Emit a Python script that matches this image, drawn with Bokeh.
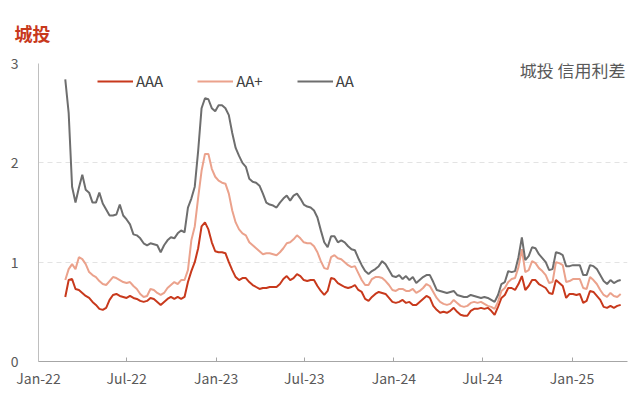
import pandas as pd
from bokeh.plotting import figure
from bokeh.models import (Label, Legend, LegendItem, FixedTicker, DatetimeTickFormatter,
                          Range1d, ColumnDataSource)
from bokeh.embed import file_html
from bokeh.resources import INLINE

# ---------------- data ----------------
dates = pd.date_range("2022-02-25", periods=164, freq="7D")

aaa = [0.65, 0.82, 0.83, 0.73, 0.72, 0.69, 0.66, 0.64, 0.60, 0.57,
       0.53, 0.52, 0.54, 0.62, 0.67, 0.68, 0.66, 0.65, 0.64, 0.66,
       0.64, 0.63, 0.61, 0.60, 0.61, 0.64, 0.63, 0.60, 0.57, 0.60,
       0.63, 0.65, 0.63, 0.65, 0.63, 0.65, 0.80, 0.91, 1.00, 1.14,
       1.36, 1.40, 1.33, 1.20, 1.11, 1.10, 1.10, 1.09, 1.00, 0.92,
       0.85, 0.82, 0.84, 0.84, 0.80, 0.77, 0.75, 0.73, 0.74, 0.74,
       0.75, 0.75, 0.75, 0.78, 0.83, 0.86, 0.82, 0.84, 0.88, 0.86,
       0.82, 0.81, 0.82, 0.82, 0.76, 0.71, 0.67, 0.71, 0.84, 0.83,
       0.79, 0.77, 0.75, 0.74, 0.75, 0.77, 0.72, 0.70, 0.63, 0.61,
       0.65, 0.68, 0.70, 0.69, 0.68, 0.64, 0.60, 0.59, 0.60, 0.62,
       0.59, 0.60, 0.57, 0.57, 0.60, 0.63, 0.66, 0.64, 0.56, 0.52,
       0.49, 0.50, 0.49, 0.51, 0.54, 0.50, 0.47, 0.46, 0.46, 0.51,
       0.53, 0.53, 0.54, 0.53, 0.54, 0.51, 0.47, 0.55, 0.64, 0.67,
       0.74, 0.74, 0.72, 0.78, 0.86, 0.72, 0.76, 0.82, 0.82, 0.78,
       0.76, 0.74, 0.69, 0.68, 0.82, 0.79, 0.76, 0.64, 0.68, 0.68,
       0.67, 0.68, 0.59, 0.61, 0.71, 0.70, 0.66, 0.62, 0.55, 0.54,
       0.56, 0.54, 0.56, 0.57]

aa_plus = [0.82, 0.93, 0.98, 0.93, 1.05, 1.03, 0.98, 0.90, 0.87, 0.85,
           0.81, 0.78, 0.77, 0.81, 0.85, 0.84, 0.82, 0.80, 0.79, 0.80,
           0.76, 0.73, 0.68, 0.65, 0.66, 0.73, 0.72, 0.69, 0.67, 0.69,
           0.74, 0.77, 0.80, 0.78, 0.82, 0.82, 0.92, 1.22, 1.36, 1.65,
           1.92, 2.09, 2.09, 1.94, 1.86, 1.82, 1.80, 1.79, 1.69, 1.52,
           1.40, 1.33, 1.29, 1.27, 1.20, 1.17, 1.14, 1.11, 1.08, 1.09,
           1.09, 1.08, 1.07, 1.10, 1.14, 1.19, 1.20, 1.23, 1.27, 1.24,
           1.20, 1.19, 1.19, 1.16, 1.10, 1.01, 0.94, 0.93, 1.05, 1.07,
           1.04, 1.03, 1.00, 0.97, 0.95, 0.96, 0.89, 0.82, 0.77, 0.77,
           0.83, 0.85, 0.85, 0.84, 0.81, 0.77, 0.72, 0.71, 0.73, 0.73,
           0.71, 0.71, 0.73, 0.69, 0.71, 0.74, 0.78, 0.76, 0.70, 0.64,
           0.60, 0.58, 0.57, 0.58, 0.62, 0.59, 0.56, 0.55, 0.56, 0.59,
           0.60, 0.59, 0.60, 0.58, 0.56, 0.55, 0.53, 0.60, 0.71, 0.74,
           0.80, 0.83, 0.84, 0.95, 1.13, 0.90, 0.92, 1.01, 0.99, 0.94,
           0.91, 0.87, 0.79, 0.80, 1.00, 0.99, 0.97, 0.80, 0.81, 0.83,
           0.83, 0.83, 0.74, 0.73, 0.85, 0.82, 0.78, 0.72, 0.67, 0.65,
           0.69, 0.66, 0.65, 0.68]

aa = [2.84, 2.50, 1.76, 1.60, 1.75, 1.88, 1.73, 1.70, 1.60, 1.60,
      1.70, 1.59, 1.53, 1.47, 1.47, 1.48, 1.58, 1.47, 1.43, 1.38,
      1.28, 1.27, 1.24, 1.19, 1.17, 1.19, 1.18, 1.17, 1.10, 1.17,
      1.22, 1.25, 1.24, 1.29, 1.32, 1.30, 1.55, 1.64, 1.76, 2.12,
      2.55, 2.65, 2.64, 2.55, 2.52, 2.58, 2.58, 2.55, 2.48, 2.30,
      2.15, 2.07, 2.00, 1.96, 1.84, 1.81, 1.80, 1.77, 1.69, 1.60,
      1.58, 1.57, 1.55, 1.60, 1.64, 1.67, 1.62, 1.67, 1.69, 1.64,
      1.58, 1.56, 1.55, 1.52, 1.45, 1.32, 1.20, 1.15, 1.26, 1.26,
      1.20, 1.22, 1.20, 1.16, 1.13, 1.12, 1.04, 0.97, 0.91, 0.88,
      0.91, 0.93, 0.96, 1.01, 0.98, 0.92, 0.86, 0.85, 0.87, 0.83,
      0.86, 0.82, 0.85, 0.79, 0.82, 0.85, 0.87, 0.87, 0.80, 0.72,
      0.71, 0.70, 0.69, 0.70, 0.71, 0.67, 0.66, 0.65, 0.65, 0.67,
      0.66, 0.65, 0.64, 0.65, 0.64, 0.62, 0.60, 0.67, 0.78, 0.80,
      0.91, 0.90, 0.91, 1.05, 1.25, 1.02, 1.06, 1.15, 1.14, 1.08,
      1.04, 1.00, 0.92, 0.93, 1.10, 1.09, 1.07, 0.96, 0.96, 0.97,
      0.97, 0.97, 0.87, 0.87, 0.97, 0.96, 0.93, 0.87, 0.81, 0.78,
      0.82, 0.79, 0.81, 0.82]

series_names = ["AAA", "AA+", "AA"]
series_colors = ["#C8391C", "#EBA28C", "#6E6E6E"]

tick_dates = ["2022-01-01", "2022-07-01", "2023-01-01", "2023-07-01",
              "2024-01-01", "2024-07-01", "2025-01-01"]
y_ticks = [0, 1, 2, 3]

title_text = "城投"
note_text = "城投 信用利差"

# ---------------- figure ----------------
FONT = "Noto Sans CJK SC"

p = figure(width=632, height=390, output_backend="svg", toolbar_location=None,
           x_axis_type="datetime", title=title_text,
           x_range=Range1d(pd.Timestamp("2022-01-01"), pd.Timestamp("2025-04-25")),
           y_range=Range1d(0, 3),
           min_border_left=38, min_border_right=5, min_border_top=63, min_border_bottom=26)
p.outline_line_color = None
p.background_fill_color = "white"
p.border_fill_color = "white"

p.title.text_font = FONT
p.title.text_font_size = "18px"
p.title.text_font_style = "bold"
p.title.text_color = "#C8391C"
p.title.align = "left"
p.title.offset = -24
p.title.standoff = 35

src = ColumnDataSource(dict(date=dates, AAA=aaa, AAp=aa_plus, AA=aa))
r_aaa = p.line("date", "AAA", source=src, line_color=series_colors[0], line_width=2)
r_aap = p.line("date", "AAp", source=src, line_color=series_colors[1], line_width=2)
r_aa = p.line("date", "AA", source=src, line_color=series_colors[2], line_width=2)

# axes
tick_ms = [pd.Timestamp(d).value / 1e6 for d in tick_dates]
p.xaxis.ticker = FixedTicker(ticks=tick_ms)
p.xaxis.formatter = DatetimeTickFormatter(days="%b-%y", months="%b-%y", years="%b-%y")
p.xaxis.axis_line_color = "#A6A6A6"
p.xaxis.major_tick_line_color = "#A6A6A6"
p.xaxis.major_tick_in = 4
p.xaxis.major_tick_out = 0
p.xaxis.minor_tick_line_color = None
p.xaxis.major_label_standoff = 6

p.yaxis.ticker = FixedTicker(ticks=y_ticks)
p.yaxis.axis_line_color = "#BFBFBF"
p.yaxis.major_tick_line_color = None
p.yaxis.minor_tick_line_color = None
p.yaxis.major_label_standoff = 14

for ax in (p.xaxis, p.yaxis):
    ax.major_label_text_font = FONT
    ax.major_label_text_font_size = "14px"
    ax.major_label_text_color = "#595959"

p.xgrid.grid_line_color = None
p.ygrid.grid_line_color = "#E3E3E3"
p.ygrid.grid_line_dash = "5 4"
p.ygrid.grid_line_width = 1

# legend
legend = Legend(items=[LegendItem(label=series_names[0], renderers=[r_aaa]),
                       LegendItem(label=series_names[1], renderers=[r_aap]),
                       LegendItem(label=series_names[2], renderers=[r_aa])],
                orientation="horizontal", location=(59, 270),
                glyph_width=36, glyph_height=16, label_height=16,
                label_standoff=3, spacing=34, padding=0, margin=0,
                border_line_color=None, background_fill_alpha=0,
                label_text_font=FONT, label_text_font_size="15px",
                label_text_color="#404040")
p.add_layout(legend)

# note inside the plot area (top right)
p.add_layout(Label(x=587, y=292, x_units="screen", y_units="screen", text=note_text,
                   text_font=FONT, text_font_size="17px",
                   text_color="#595959", text_baseline="middle", text_align="right"))

open("out.html", "w").write(file_html(p, INLINE))
